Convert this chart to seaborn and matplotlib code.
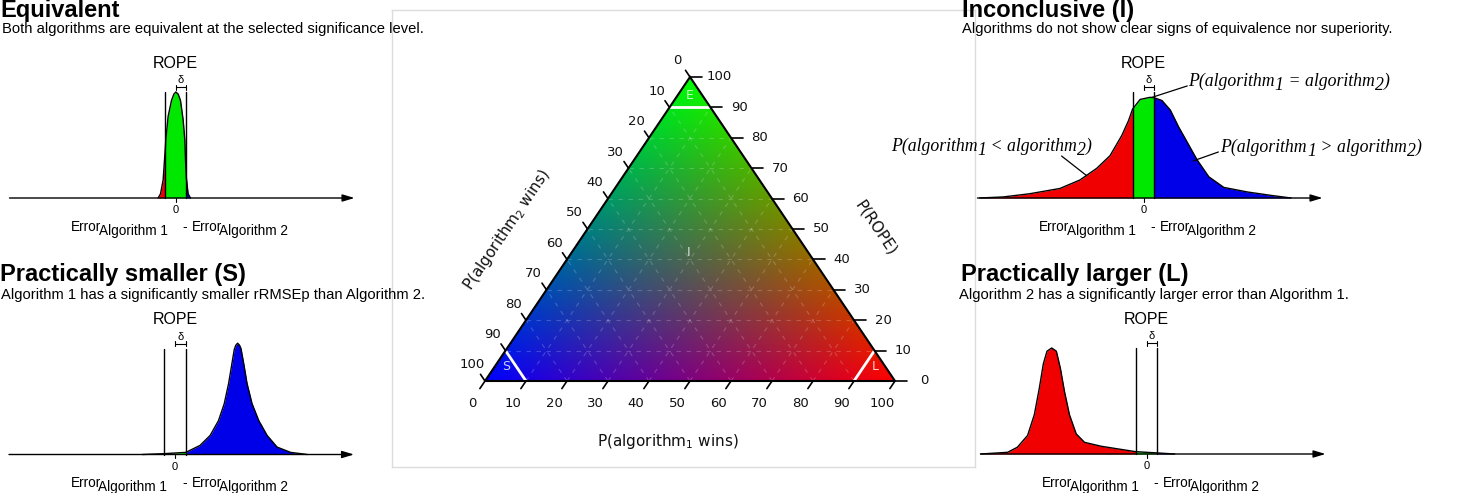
import numpy as np
import matplotlib
matplotlib.use("Agg")
import matplotlib.pyplot as plt
from matplotlib.patches import Polygon
import seaborn as sns

sns.set_theme(style="white")
plt.rcParams['font.family'] = ['Liberation Sans', 'DejaVu Sans']
plt.rcParams['text.color'] = 'black'

W, H_PX = 1473, 493

# density curves, x in units of delta (ROPE half width), y relative to ROPE marker height
eq_x = [-1.60, -1.38, -1.14, -1.0, -0.89, -0.68, -0.37, -0.15, 0.03, 0.25, 0.46, 0.70, 0.86, 0.92, 1.0, 1.16, 1.38]
eq_y = [0.0, 0.04, 0.17, 0.38, 0.55, 0.77, 0.92, 0.98, 1.0, 0.98, 0.92, 0.74, 0.55, 0.36, 0.19, 0.04, 0.0]

sm_x = [-3.0, -1.0, 1.0, 2.31, 3.24, 4.01, 4.54, 4.94, 5.25, 5.46, 5.6, 5.77, 5.95, 6.08, 6.33, 6.64, 7.10, 7.72, 8.49, 9.41, 10.65, 12.2]
sm_y = [0.0, 0.008, 0.02, 0.086, 0.18, 0.32, 0.48, 0.67, 0.86, 0.99, 1.03, 1.05, 1.03, 1.0, 0.86, 0.67, 0.48, 0.32, 0.18, 0.07, 0.02, 0.0]

inc_x = [-15.1, -12.93, -10.5, -7.7, -5.86, -4.31, -3.08, -2.0, -1.38, -1.0, -0.31, 0.62, 1.0, 1.7, 2.47, 3.24, 4.01, 4.94, 6.02, 7.4, 9.57, 11.73, 13.6]
inc_y = [0.0, 0.01, 0.04, 0.09, 0.17, 0.28, 0.40, 0.59, 0.73, 0.84, 0.93, 0.95, 0.945, 0.92, 0.83, 0.67, 0.53, 0.36, 0.20, 0.10, 0.057, 0.025, 0.0]

lg_x = [-15.28, -12.8, -11.9, -10.96, -10.34, -9.88, -9.51, -9.17, -8.74, -8.31, -7.94, -7.56, -7.1, -6.48, -5.71, -4.17, -2.63, -1.0, 1.0, 2.6]
lg_y = [0.0, 0.016, 0.064, 0.175, 0.37, 0.62, 0.85, 0.97, 1.0, 0.97, 0.81, 0.59, 0.37, 0.19, 0.11, 0.073, 0.048, 0.022, 0.01, 0.0]

tern_ticks = [0, 10, 20, 30, 40, 50, 60, 70, 80, 90, 100]
region_cut = 90  # E / S / L boundaries

titles = ["Equivalent", "Practically smaller (S)", "Inconclusive (I)", "Practically larger (L)"]
subtitles = [
    "Both algorithms are equivalent at the selected significance level.",
    "Algorithm 1 has a significantly smaller rRMSEp than Algorithm 2.",
    "Algorithms do not show clear signs of equivalence nor superiority.",
    "Algorithm 2 has a significantly larger error than Algorithm 1.",
]

RED, GREEN, BLUE = '#f00000', '#00e800', '#0000e8'

fig = plt.figure(figsize=(W / 100, H_PX / 100), dpi=100)


def ftext(xp, yp, s, **kw):
    return fig.text(xp / W, 1 - yp / H_PX, s, **kw)


def chain_text(ax, x, y, pieces, **kw):
    # pieces: (text, baseline shift px, gap before px)
    txt0, s0, _ = pieces[0]
    prev = ax.text(x, y, txt0, va='baseline', ha='left', **kw)
    prev_s = s0
    for txt, s, dx in pieces[1:]:
        prev = ax.annotate(txt, xy=(1, 0), xycoords=prev, xytext=(dx, s - prev_s),
                           textcoords='offset pixels', va='bottom', ha='left', **kw)
        prev_s = s


# ---------------- ternary plot in the middle ----------------
SQ = np.sqrt(3) / 2
tax = fig.add_axes([392 / W, 1 - 467 / H_PX, (975 - 392) / W, (467 - 10) / H_PX])
tax.set_xlim((392 - 485) / 410, (975 - 485) / 410)
tax.set_ylim((381 - 467) / 304 * SQ, (381 - 10) / 304 * SQ)
tax.set_xticks([])
tax.set_yticks([])
for s in tax.spines.values():
    s.set_color('#dcdcdc')
    s.set_linewidth(1)

n = 500
uu, vv = np.meshgrid(np.linspace(0, 1, n), np.linspace(0, SQ, n))
rope = vv / SQ
a1 = uu - 0.5 * rope
a2 = 1 - a1 - rope
rgba = np.clip(np.dstack([a1, rope, a2, np.ones_like(a1)]), 0, 1)
img = tax.imshow(rgba, extent=(0, 1, 0, SQ), origin='lower', aspect='auto', interpolation='bilinear')
tri = Polygon([(0, 0), (1, 0), (0.5, SQ)], closed=True, transform=tax.transData)
img.set_clip_path(tri)


def cart(p1, pr):
    return p1 + 0.5 * pr, pr * SQ


# faint grid
for k in tern_ticks[1:-1]:
    f = k / 100
    segs = [(cart(0, f), cart(1 - f, f)),
            (cart(f, 0), cart(f, 1 - f)),
            (cart(1 - f, 0), cart(0, 1 - f))]
    for (xa, ya), (xb, yb) in segs:
        tax.plot([xa, xb], [ya, yb], color='white', lw=0.8, alpha=0.2, ls=(0, (4, 5)))

# region boundaries
f = region_cut / 100
for (xa, ya), (xb, yb) in [(cart(0, f), cart(1 - f, f)),
                           (cart(0, 1 - f), cart(1 - f, 0)),
                           (cart(f, 0), cart(f, 1 - f))]:
    tax.plot([xa, xb], [ya, yb], color='white', lw=2)

tax.add_patch(Polygon([(0, 0), (1, 0), (0.5, SQ)], closed=True, fill=False, ec='black', lw=1.5, zorder=5))

tfont = dict(family='DejaVu Sans', fontsize=9.5, color='#111111')
for k in tern_ticks:
    f = k / 100
    # bottom axis: P(algorithm1 wins)
    x, y = cart(f, 0)
    tax.plot([x, x - 0.5 * 0.025], [y, y - SQ * 0.025], color='black', lw=1.2, clip_on=False)
    tax.text(x - 0.0317, y - 0.0627, str(k), ha='center', va='center', **tfont)
    # right axis: P(ROPE)
    x, y = cart(1 - f, f)
    tax.plot([x, x + 0.029], [y, y], color='black', lw=1.2, clip_on=False)
    tax.text(x + 0.0707, y, str(k), ha='center', va='center', **tfont)
    # left axis: P(algorithm2 wins)
    x, y = cart(0, 1 - f)
    tax.plot([x, x - 0.5 * 0.022], [y, y + SQ * 0.022], color='black', lw=1.2, clip_on=False)
    tax.text(x - 0.0317, y + 0.0456, str(k), ha='center', va='center', **tfont)

lfont = dict(family='DejaVu Sans', fontsize=11, color='#111111', ha='center', va='center')
tax.text(0.446, -0.171, r'P(algorithm$_1$ wins)', **lfont)
tax.text(0.054, 0.430, r'P(algorithm$_2$ wins)', rotation=56, **lfont)
tax.text(0.952, 0.436, 'P(ROPE)', rotation=-56, **lfont)

rfont = dict(family='DejaVu Sans', fontsize=9, color='white', ha='center', va='center', alpha=0.8)
tax.text(0.5, 0.812, 'E', **rfont)
tax.text(0.051, 0.040, 'S', **rfont)
tax.text(0.951, 0.040, 'L', **rfont)
tax.text(0.4976, 0.365, 'I', **rfont)

# ---------------- distribution panels ----------------
D, HH = 10.85, 106.0
XL, XR = -17.0, 18.5


def panel(x0, y0):
    left, right = x0 + XL * D, x0 + XR * D
    top, bottom = y0 - 150, y0 + 38
    ax = fig.add_axes([left / W, 1 - bottom / H_PX, (right - left) / W, (bottom - top) / H_PX])
    return ax, (-38 / HH, 150 / HH)


def draw_panel(ax, ylim, xs, ys):
    xs = np.asarray(xs)
    ys = np.asarray(ys)
    for lo, hi, col in [(-np.inf, -1, RED), (-1, 1, GREEN), (1, np.inf, BLUE)]:
        m = (xs >= lo) & (xs <= hi)
        if m.sum() > 1:
            ax.fill_between(xs[m], 0, ys[m], color=col, lw=0)
    sns.lineplot(x=xs, y=ys, ax=ax, color='black', linewidth=1.0, sort=False,
                 estimator=None, legend=False)
    for xv in (-1, 1):
        ax.plot([xv, xv], [0, 1.0], color='black', lw=1.0)
    ax.annotate('', xy=(16.5, 0), xytext=(-15.3, 0),
                arrowprops=dict(arrowstyle='-|>,head_length=0.6,head_width=0.18',
                                color='black', lw=1.0, shrinkA=0, shrinkB=0))
    ax.plot([0, 0], [0, -0.035], color='black', lw=0.8)
    ax.plot([0, 1], [1.045, 1.045], color='black', lw=0.8)
    for xv in (0, 1):
        ax.plot([xv, xv], [1.02, 1.07], color='black', lw=0.8)
    ax.text(0.5, 1.11, 'δ', ha='center', va='center', fontsize=8)
    ax.text(0, 1.27, 'ROPE', ha='center', va='center', fontsize=11.5)
    ax.text(0, -0.115, '0', ha='center', va='center', fontsize=8)
    chain_text(ax, -9.6, -0.31, [('Error', 0, 0), ('Algorithm 1', -4, -3), ('-', 0, 15),
                                 ('Error', 0, 5), ('Algorithm 2', -4, -3)], fontsize=9.8)
    ax.set_xlim(XL, XR)
    ax.set_ylim(*ylim)
    ax.axis('off')


ax_eq, yl = panel(175.5, 198)
draw_panel(ax_eq, yl, eq_x, eq_y)
ax_sm, yl = panel(175, 454.5)
draw_panel(ax_sm, yl, sm_x, sm_y)
ax_inc, yl = panel(1143.5, 198)
draw_panel(ax_inc, yl, inc_x, inc_y)
ax_lg, yl = panel(1146.5, 454)
draw_panel(ax_lg, yl, lg_x, lg_y)

# annotations for the inconclusive case
sfont = dict(family='Liberation Serif', style='italic', fontsize=12.8)
for x, y, op in [(4.12, 1.057, '='), (-23.3, 0.446, '<'), (7.08, 0.437, '>')]:
    chain_text(ax_inc, x, y, [('P(algorithm', 0, 0), ('1', -4, 0), (' %s algorithm' % op, 0, 0),
                              ('2', -4, 0), (')', 0, 0)], **sfont)
ax_inc.plot([4.03, 0.8], [1.057, 0.95], color='black', lw=0.9, clip_on=False)
ax_inc.plot([-7.55, -5.23], [0.396, 0.21], color='black', lw=0.9, clip_on=False)
ax_inc.plot([6.9, 4.58], [0.434, 0.35], color='black', lw=0.9, clip_on=False)

# titles
tpos = [(0, 17.5), (0, 281), (962, 17), (961, 281.5)]
spos = [(2, 33), (1, 299), (962, 32.5), (959, 299.5)]
for t, s, (tx, ty), (sx, sy) in zip(titles, subtitles, tpos, spos):
    ftext(tx, ty, t, fontsize=17, fontweight='bold', va='baseline', ha='left', zorder=10)
    ftext(sx, sy, s, fontsize=10.6, va='baseline', ha='left', zorder=10)

fig.savefig('out.png', dpi=100)
